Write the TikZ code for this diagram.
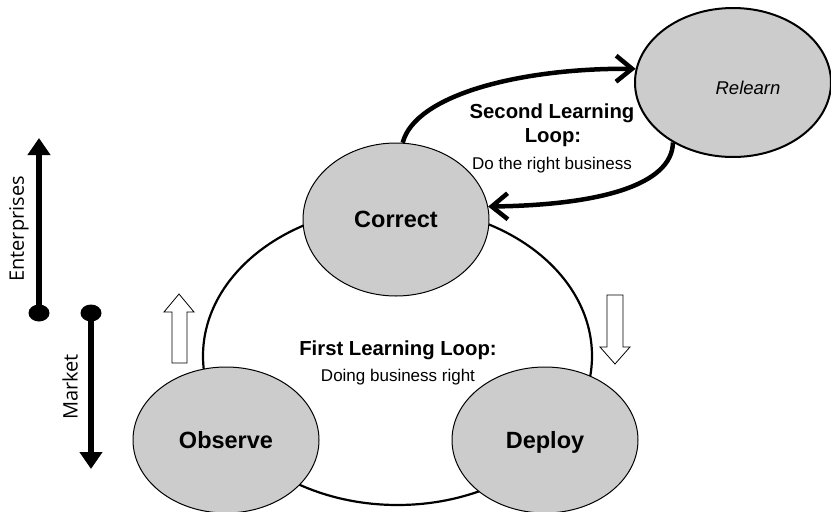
\documentclass[tikz,border=0pt]{standalone}
\usepackage{fontspec}
\setmainfont{Liberation Sans}
\newfontfamily\sidefont{Open Sans}
\usetikzlibrary{arrows.meta,shapes.geometric}
\definecolor{ellgray}{RGB}{204,204,204}
\begin{document}
\begin{tikzpicture}[x=1pt,y=-1pt,
  stage/.style={ellipse, draw=black, line width=1pt, fill=ellgray, inner sep=0pt,
    text depth=0pt, minimum width=186pt, minimum height=146pt,
    font=\fontsize{23.5}{27}\selectfont\bfseries},
  bigloop/.style={ellipse, draw=black, line width=2.2pt, inner sep=0pt,
    minimum width=389pt, minimum height=298pt},
  secloop/.style={line width=4.5pt, -{Straight Barb[length=16pt,width=26pt]}},
  hollow/.style={draw=black, line width=0.8pt, fill=white, line join=miter},
  blackdot/.style={ellipse, fill=black, inner sep=0pt, minimum width=21pt, minimum height=17pt},
  sidearrow/.style={line width=6.7pt, -{Triangle[length=17pt,width=22pt]}},
  sidelbl/.style={font=\sidefont\fontsize{20}{24}\selectfont, inner sep=0pt, rotate=90},
  looptitle/.style={font=\fontsize{20.3}{24}\selectfont\bfseries, inner sep=0pt, anchor=base},
  loopsub/.style={font=\fontsize{17}{20}\selectfont, inner sep=0pt, anchor=base}
]
\useasboundingbox (0,0) rectangle (831,512);

% first learning loop
\node[bigloop] (loop1) at (397.5,356) {};

% stages
\node[stage, minimum height=153pt] (correct) at (396,219.5) {Correct};
\node[stage] (observe) at (226,440) {Observe};
\node[stage] (deploy) at (545,440) {Deploy};
\node[ellipse, draw=black, line width=2pt, fill=ellgray, inner sep=0pt,
  minimum width=196pt, minimum height=149pt] (relearn) at (733,82.5) {};
\node[font=\fontsize{18.5}{22}\selectfont\itshape, inner sep=0pt, anchor=base] (relearnlbl) at (748,94) {Relearn};

% second learning loop
\draw[secloop] (correct.85) .. controls (415,95) and (520,68) .. (relearn.172);
\draw[secloop] (relearn.225) .. controls (672,185) and (600,205) .. (correct.8);

% loop texts
\node[looptitle] (sl1) at (552,118) {Second Learning};
\node[looptitle] (sl2) at (553,142) {Loop:};
\node[loopsub] (sl3) at (552,169) {Do the right business};
\node[looptitle] (fl1) at (398,355) {First Learning Loop:};
\node[loopsub] (fl2) at (398,381) {Doing business right};

% hollow direction arrows
\draw[hollow] (172,363) -- (172,312) -- (164,312) -- (179,294) -- (194,312) -- (187,312) -- (187,363) -- cycle;
\draw[hollow] (607,295) -- (607,347) -- (600,347) -- (615,364) -- (630,347) -- (623,347) -- (623,295) -- cycle;

% side arrows
\node[blackdot] (edot) at (39,313) {};
\coordinate (etip) at (39,138);
\draw[sidearrow] (edot.center) -- (etip);
\node[blackdot] (mdot) at (91,313) {};
\coordinate (mtip) at (91,469);
\draw[sidearrow] (mdot.center) -- (mtip);
\node[sidelbl] (entlbl) at (19,229) {Enterprises};
\node[sidelbl] (mktlbl) at (70,387) {Market};
\end{tikzpicture}
\end{document}
